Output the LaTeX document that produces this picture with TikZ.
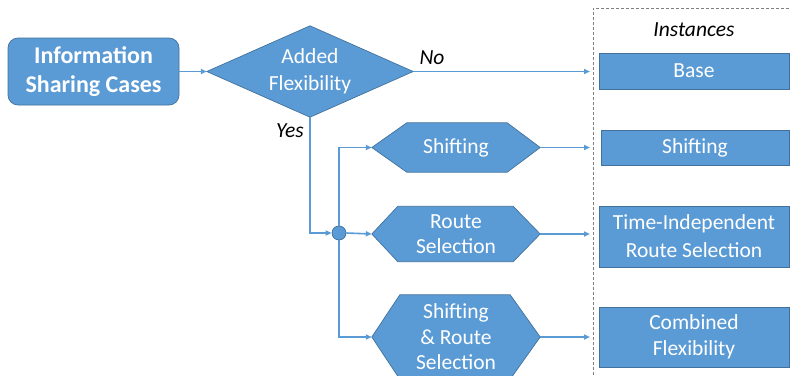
\documentclass[tikz,border=0pt]{standalone}
\usepackage{fontspec}
\setmainfont{Carlito}
\usetikzlibrary{arrows.meta,backgrounds}
\definecolor{boxblue}{HTML}{5B9BD5}
\definecolor{edgeblue}{HTML}{41719C}
\definecolor{framegray}{HTML}{7F7F7F}
\begin{document}
\begin{tikzpicture}[x=1pt,y=-1pt,
  blk/.style={draw=edgeblue, fill=boxblue, line width=0.7pt, text=white,
    align=center, inner sep=0pt, font=\fontsize{21.5}{27}\selectfont},
  hexnode/.style={rectangle, inner sep=0pt, text=white, align=center,
    font=\fontsize{21.5}{25.5}\selectfont},
  hexfill/.style={draw=edgeblue, fill=boxblue, line width=0.7pt},
  conn/.style={draw=boxblue, line width=1.6pt,
    -{Triangle[length=6pt,width=5pt]}},
  lbl/.style={font=\itshape\fontsize{21.5}{24}\selectfont, text=black}]

\clip (0,0) rectangle (790,375);
\useasboundingbox (0,0) rectangle (790,375);

% frame around the instance column
\draw[framegray, line width=0.8pt, dash pattern=on 3pt off 2pt]
  (593,380) -- (593,8) -- (800,8);
\node[lbl] (inst) at (694,30) {Instances};

% start box and decision
\node[blk, rounded corners=10pt, minimum width=171pt, minimum height=67pt,
  font=\bfseries\fontsize{24}{29}\selectfont] (info) at (93.5,71.5)
  {Information\\Sharing Cases};
\node[hexnode, minimum width=206pt, minimum height=91pt,
  font=\fontsize{21.5}{27}\selectfont] (flex) at (310,71.5) {Added\\Flexibility};

% hexagonal flexibility options
\node[hexnode, minimum width=168pt, minimum height=49pt] (hs) at (456,147.5) {Shifting};
\node[hexnode, minimum width=168pt, minimum height=55pt] (hr) at (456,234) {Route\\Selection};
\node[hexnode, minimum width=168pt, minimum height=84pt] (hc) at (456,337)
  {Shifting\\\& Route\\Selection};
\begin{pgfonlayer}{background}
  \draw[hexfill] (flex.west) -- (flex.north) -- (flex.east) -- (flex.south) -- cycle;
  \draw[hexfill] (hs.west) -- ([xshift=35pt]hs.north west) -- ([xshift=-33pt]hs.north east)
    -- (hs.east) -- ([xshift=-33pt]hs.south east) -- ([xshift=35pt]hs.south west) -- cycle;
  \draw[hexfill] (hr.west) -- ([xshift=26pt]hr.north west) -- ([xshift=-27pt]hr.north east)
    -- (hr.east) -- ([xshift=-27pt]hr.south east) -- ([xshift=26pt]hr.south west) -- cycle;
  \draw[hexfill] (hc.west) -- ([xshift=28pt]hc.north west) -- ([xshift=-30pt]hc.north east)
    -- (hc.east) -- ([xshift=-30pt]hc.south east) -- ([xshift=28pt]hc.south west) -- cycle;
\end{pgfonlayer}

% junction
\node[circle, fill=boxblue, draw=edgeblue, line width=0.7pt, minimum size=14pt,
  inner sep=0pt] (jn) at (339,233) {};

% instances
\node[blk, minimum width=190pt, minimum height=36pt] (base) at (694,71) {Base};
\node[blk, minimum width=188pt, minimum height=35pt] (sbox) at (695,147.5) {Shifting};
\node[blk, minimum width=190pt, minimum height=61pt, font=\fontsize{21.5}{28}\selectfont]
  (tirs) at (694,236.5) {Time-Independent\\Route Selection};
\node[blk, minimum width=190pt, minimum height=60pt, font=\fontsize{21.5}{26}\selectfont]
  (comb) at (694,337) {Combined\\Flexibility};

\coordinate (fr) at (590,0);

% connectors
\draw[conn] (info.east) -- (flex.west);
\draw[conn] (flex.east) -- (flex.east -| fr);
\draw[conn] (flex.south) |- (jn.west);
\draw[conn] (jn.north) |- (hs.west);
\draw[conn] (jn.east) -- (hr.west);
\draw[conn] (jn.south) |- (hc.west);
\draw[conn] (hs.east) -- (hs.east -| fr);
\draw[conn] (hr.east) -- (hr.east -| fr);
\draw[conn] (hc.east) -- (hc.east -| fr);

% branch labels
\node[lbl] (no) at (432,58) {No};
\node[lbl] (yes) at (290,131) {Yes};
\end{tikzpicture}
\end{document}
